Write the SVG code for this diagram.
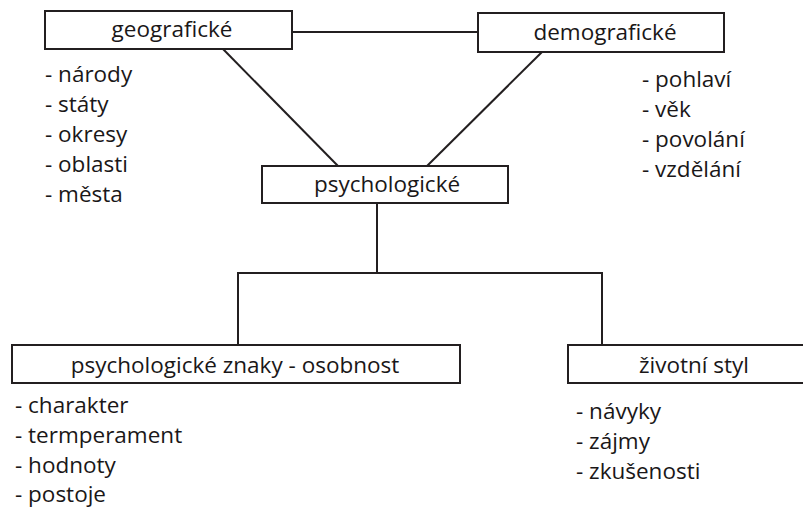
<svg xmlns="http://www.w3.org/2000/svg" width="803" height="508" viewBox="0 0 803 508">
<style>
.box{fill:#fff;stroke:#231f20;stroke-width:2}
.ln{fill:none;stroke:#231f20;stroke-width:2}
text{font-family:"Open Sans","Noto Sans",sans-serif;font-size:22.5px;fill:#1a1718}
.c{text-anchor:middle}
</style>
<rect width="803" height="508" fill="#fff"/>
<g id="connectors">
<line class="ln" x1="292" y1="32" x2="478" y2="32"/>
<line class="ln" x1="223" y1="49" x2="338" y2="166"/>
<line class="ln" x1="542" y1="52" x2="427" y2="166"/>
<polyline class="ln" points="377,203 377,273"/>
<polyline class="ln" points="238,345 238,273 602,273 602,345"/>
</g>
<g id="geograficke">
<rect class="box" x="45" y="11" width="247" height="38"/>
<text class="c" x="172" y="37">geografické</text>
<text x="45" y="82">- národy</text>
<text x="45" y="112">- státy</text>
<text x="45" y="142">- okresy</text>
<text x="45" y="172">- oblasti</text>
<text x="45" y="202">- města</text>
</g>
<g id="demograficke">
<rect class="box" x="478" y="13" width="246" height="39"/>
<text class="c" x="605" y="40">demografické</text>
<text x="642" y="87">- pohlaví</text>
<text x="642" y="117">- věk</text>
<text x="642" y="147">- povolání</text>
<text x="642" y="177">- vzdělání</text>
</g>
<g id="psychologicke">
<rect class="box" x="262" y="166" width="246" height="37"/>
<text class="c" x="387" y="192">psychologické</text>
</g>
<g id="znaky">
<rect class="box" x="12" y="345" width="448" height="38"/>
<text class="c" x="235" y="373">psychologické znaky - osobnost</text>
<text x="15" y="413">- charakter</text>
<text x="15" y="443">- termperament</text>
<text x="15" y="473">- hodnoty</text>
<text x="15" y="502">- postoje</text>
</g>
<g id="styl">
<rect class="box" x="568" y="345" width="250" height="38"/>
<text class="c" x="694" y="373">životní styl</text>
<text x="576" y="419">- návyky</text>
<text x="576" y="449">- zájmy</text>
<text x="576" y="479">- zkušenosti</text>
</g>
</svg>
